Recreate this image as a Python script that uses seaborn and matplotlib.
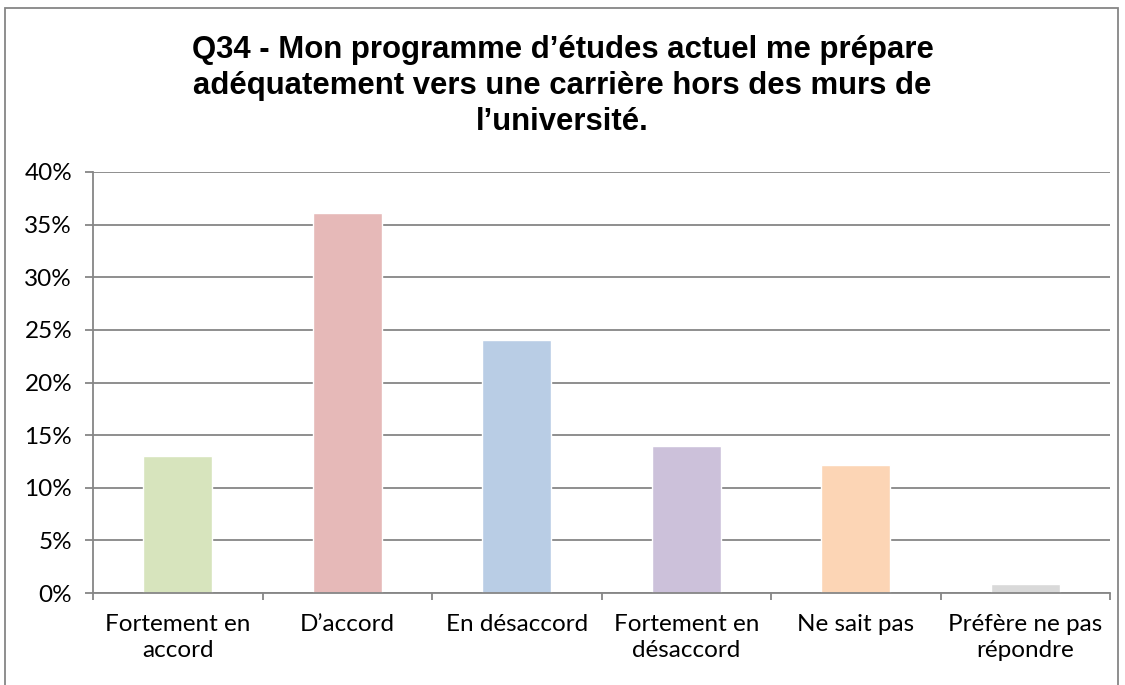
import matplotlib
matplotlib.use("Agg")
import matplotlib.pyplot as plt
from matplotlib.patches import Rectangle
from matplotlib.ticker import FuncFormatter, MultipleLocator
import seaborn as sns
import pandas as pd

# Data
categories = ["Fortement en\naccord", "D\u2019accord", "En d\u00e9saccord",
              "Fortement en\nd\u00e9saccord", "Ne sait pas", "Pr\u00e9f\u00e8re ne pas\nr\u00e9pondre"]
values = [13.0, 36.1, 24.0, 14.0, 12.2, 0.9]
colors = ["#d7e4bd", "#e6b9b8", "#b9cde5", "#ccc1da", "#fcd5b5", "#d9d9d9"]
title = ("Q34 - Mon programme d\u2019\u00e9tudes actuel me pr\u00e9pare\n"
         "ad\u00e9quatement vers une carri\u00e8re hors des murs de\n"
         "l\u2019universit\u00e9.")

df = pd.DataFrame({"cat": categories, "val": values})

sns.set_theme(style="white")
plt.rcParams["font.family"] = ["Lato", "DejaVu Sans"]
plt.rcParams["text.color"] = "black"

fig = plt.figure(figsize=(11.25, 6.85), dpi=100)
ax = fig.add_axes([93 / 1125, 1 - 593 / 685, (1110 - 93) / 1125, (593 - 172) / 685])

sns.barplot(data=df, x="cat", y="val", hue="cat", palette=colors,
            legend=False, width=0.41, saturation=1, ax=ax)

ax.set_ylim(0, 40)
ax.set_xlim(-0.5, len(categories) - 0.5)
ax.yaxis.set_major_locator(MultipleLocator(5))
ax.yaxis.set_major_formatter(FuncFormatter(lambda v, p: f"{v:.0f}%"))
ax.grid(axis="y", color="#868686", linewidth=1.3)
ax.set_axisbelow(True)
ax.set_xlabel("")
ax.set_ylabel("")

for side in ["top", "right"]:
    ax.spines[side].set_visible(False)
for side in ["left", "bottom"]:
    ax.spines[side].set_color("#868686")
    ax.spines[side].set_linewidth(1.3)

# category boundary ticks, Excel style
ax.set_xticks([i - 0.5 for i in range(len(categories) + 1)], minor=True)
ax.tick_params(axis="x", which="major", length=0, labelsize=17.5, labelcolor="black", pad=15)
ax.tick_params(axis="x", which="minor", length=5, width=1.3, color="#868686", bottom=True)
ax.tick_params(axis="y", length=6, width=1.3, color="#868686", left=True,
               labelsize=17.5, labelcolor="black", pad=9)
for lab in ax.get_xticklabels():
    lab.set_linespacing(1.32)

fig.text(0.5, 1 - 86 / 685, title, ha="center", va="center", fontsize=22.4,
         fontweight="bold", color="black",
         family=["Liberation Sans", "DejaVu Sans"], linespacing=1.26)

# outer chart frame
fig.patches.append(Rectangle((5 / 1125, -0.05), (1118 - 5) / 1125, 1.05 - 8 / 685,
                             transform=fig.transFigure, fill=False,
                             edgecolor="#868686", linewidth=1.3))

fig.savefig("out.png", dpi=100)
